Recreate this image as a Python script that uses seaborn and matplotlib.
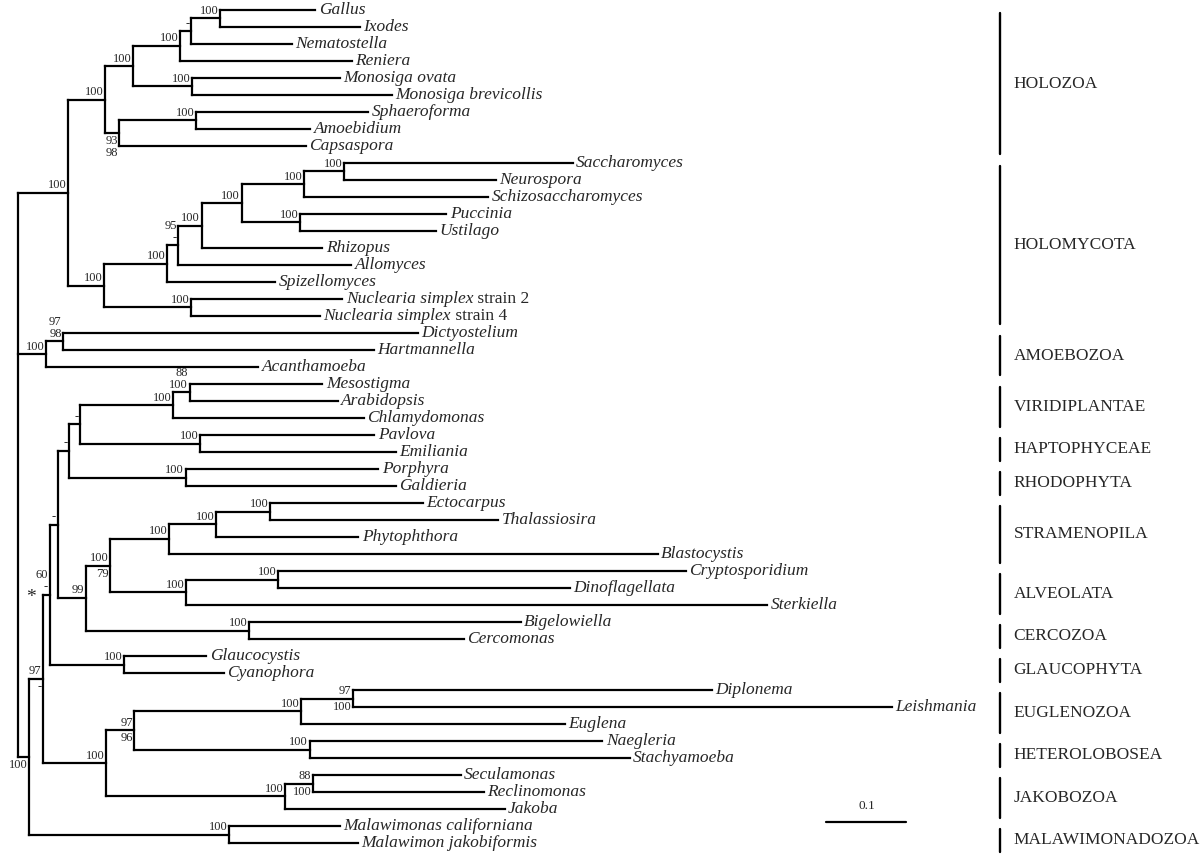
import re
import pandas as pd
import matplotlib
matplotlib.use("Agg")
import matplotlib.pyplot as plt
import seaborn as sns

# -----------------------------
# DATA
# -----------------------------
# Tree in Newick form. Branch lengths (subst./site)
# against the 0.1 scale bar. Internal labels are the support values:
#   "a/b"  -> a stacked over b, above the branch
#   "a|b"  -> a above the branch, b below it
#   leading "*" -> asterisk marker drawn left of that node
opisthokonta = (
    "((((((Gallus:0.119,Ixodes:0.175)100:0.036,Nematostella:0.126)-:0.014,"
    "Reniera:0.215)100:0.059,(Monosiga_ovata:0.185,Monosiga_brevicollis:0.25)100:0.074)100:0.035,"
    "((Sphaeroforma:0.215,Amoebidium:0.143)100:0.096,Capsaspora:0.233)|93/98:0.018)100:0.046,"
    "(((((((Saccharomyces:0.286,Neurospora:0.19)100:0.05,Schizosaccharomyces:0.23)100:0.078,"
    "(Puccinia:0.183,Ustilago:0.17)100:0.073)100:0.05,Rhizopus:0.151)100:0.029,"
    "Allomyces:0.216)95/-:0.014,Spizellomyces:0.135)100:0.079,"
    "(Nuclearia_simplex_strain_2:0.189,Nuclearia_simplex_strain_4:0.161)100:0.109)100:0.045)100:0.063"
)
amoebozoa = "((Dictyostelium:0.443,Hartmannella:0.388)97/98:0.021,Acanthamoeba:0.265)100:0.036"
plants_etc = (
    "((((Mesostigma:0.166,Arabidopsis:0.185)88/100:0.021,Chlamydomonas:0.239)100:0.116,"
    "(Pavlova:0.218,Emiliania:0.245)100:0.15)-:0.014,(Porphyra:0.241,Galdieria:0.263)100:0.146)-:0.014"
)
sar = (
    "(((((Ectocarpus:0.191,Thalassiosira:0.285)100:0.068,Phytophthora:0.178)100:0.059,"
    "Blastocystis:0.611)100:0.073,((Cryptosporidium:0.509,Dinoflagellata:0.364)100:0.115,"
    "Sterkiella:0.726)100:0.095)100|79:0.031,(Bigelowiella:0.34,Cercomonas:0.269)100:0.204)99:0.035"
)
discoba = (
    "((((Diplonema:0.449,Leishmania:0.674)97|100:0.065,Euglena:0.33)100:0.208,"
    "(Naegleria:0.366,Stachyamoeba:0.4)100:0.219)97|96:0.035,"
    "((Seculamonas:0.185,Reclinomonas:0.214)88|100:0.035,Jakoba:0.275)100:0.223)100:0.079"
)
rest = (
    "((((" + plants_etc + "," + sar + ")-:0.01,(Glaucocystis:0.103,Cyanophora:0.125)100:0.093)*60/-:0.008,"
    + discoba + ")97|-:0.018,(Malawimonas_californiana:0.139,Malawimon_jakobiformis:0.161)100:0.25)|100:0.014"
)
tree_nwk = "(" + opisthokonta + "," + amoebozoa + "," + rest + ");"

# clade bars on the right: (name, first leaf, last leaf)
group_names = ["HOLOZOA", "HOLOMYCOTA", "AMOEBOZOA", "VIRIDIPLANTAE", "HAPTOPHYCEAE",
               "RHODOPHYTA", "STRAMENOPILA", "ALVEOLATA", "CERCOZOA", "GLAUCOPHYTA",
               "EUGLENOZOA", "HETEROLOBOSEA", "JAKOBOZOA", "MALAWIMONADOZOA"]
group_first = ["Gallus", "Saccharomyces", "Dictyostelium", "Mesostigma", "Pavlova",
               "Porphyra", "Ectocarpus", "Cryptosporidium", "Bigelowiella", "Glaucocystis",
               "Diplonema", "Naegleria", "Seculamonas", "Malawimonas_californiana"]
group_last = ["Capsaspora", "Nuclearia_simplex_strain_4", "Acanthamoeba", "Chlamydomonas", "Emiliania",
              "Galdieria", "Blastocystis", "Sterkiella", "Cercomonas", "Cyanophora",
              "Euglena", "Stachyamoeba", "Jakoba", "Malawimon_jakobiformis"]

scale_len = 0.1


# -----------------------------
# PARSE + LAYOUT
# -----------------------------
def parse_newick(s):
    s = s.strip().rstrip(";")
    pos = 0

    def node():
        nonlocal pos
        n = {"children": [], "label": "", "length": 0.0}
        if s[pos] == "(":
            pos += 1
            n["children"].append(node())
            while s[pos] == ",":
                pos += 1
                n["children"].append(node())
            pos += 1
        lab = re.match(r"[^(),:;]*", s[pos:]).group(0)
        n["label"] = lab
        pos += len(lab)
        if pos < len(s) and s[pos] == ":":
            m = re.match(r":([0-9.]+)", s[pos:])
            n["length"] = float(m.group(1))
            pos += len(m.group(0))
        return n

    return node()


root = parse_newick(tree_nwk)
leaves = []


def layout(n, x0):
    n["x"] = x0 + n["length"]
    if not n["children"]:
        n["y"] = len(leaves)
        leaves.append(n)
    else:
        for c in n["children"]:
            layout(c, n["x"])
        n["y"] = (n["children"][0]["y"] + n["children"][-1]["y"]) / 2


layout(root, 0.0)

rows = []
internal = []


def collect(n, parent):
    if parent is not None:
        sid = len(rows)
        rows.append({"seg": sid, "x": parent["x"], "y": n["y"]})
        rows.append({"seg": sid, "x": n["x"], "y": n["y"]})
    if n["children"]:
        sid = len(rows)
        rows.append({"seg": sid, "x": n["x"], "y": n["children"][0]["y"]})
        rows.append({"seg": sid, "x": n["x"], "y": n["children"][-1]["y"]})
        if parent is not None:
            internal.append((n, parent))
        for c in n["children"]:
            collect(c, n)


collect(root, None)
seg_df = pd.DataFrame(rows)
leaf_y = {lf["label"]: lf["y"] for lf in leaves}

# -----------------------------
# PLOT
# -----------------------------
sns.set_theme(style="white")
plt.rcParams["font.family"] = ["Liberation Serif", "DejaVu Serif"]

fig = plt.figure(figsize=(12, 8.56), dpi=100)
ax = fig.add_axes([0, 0, 1, 1])

sns.lineplot(data=seg_df, x="x", y="y", units="seg", estimator=None, sort=False,
             color="black", lw=1.6, solid_capstyle="projecting", legend=False, ax=ax)

# leaf names (strain suffix stays upright)
for lf in leaves:
    name = lf["label"].replace("_", " ")
    head, sep, tail = name.partition(" strain ")
    t1 = ax.annotate(head, xy=(lf["x"], lf["y"]), xytext=(2.5, 0), textcoords="offset points",
                     ha="left", va="center", fontsize=12.5, fontstyle="italic")
    if sep:
        ax.annotate(" strain " + tail, xy=(1, 0.5), xycoords=t1,
                    ha="left", va="center", fontsize=12.5)

# support values
for n, parent in internal:
    lab = n["label"]
    if lab.startswith("*"):
        lab = lab[1:]
        ax.annotate("*", xy=(parent["x"], n["y"]), xytext=(-5, -2), textcoords="offset points",
                    ha="right", va="center", fontsize=14)
    above, _, below = lab.partition("|")
    if above:
        ax.annotate(above.replace("/", "\n"), xy=(n["x"], n["y"]), xytext=(-1, 1.2),
                    textcoords="offset points", ha="right", va="bottom",
                    fontsize=9, linespacing=0.95, multialignment="right")
    if below:
        ax.annotate(below.replace("/", "\n"), xy=(n["x"], n["y"]), xytext=(-1, -1.5),
                    textcoords="offset points", ha="right", va="top",
                    fontsize=9, linespacing=0.95, multialignment="right")

# clade bars
trans = ax.get_yaxis_transform()
for g, a, b in zip(group_names, group_first, group_last):
    y0 = leaf_y[a] + 0.2
    y1 = leaf_y[b] + 0.5
    ax.plot([0.8335, 0.8335], [y0, y1], color="black", lw=1.7, transform=trans)
    ax.text(0.8445, (y0 + y1) / 2, g, transform=trans, ha="left", va="center", fontsize=12.5)

# scale bar
sb_x, sb_y = 1.011, 47.75
ax.plot([sb_x, sb_x + scale_len], [sb_y, sb_y], color="black", lw=1.6)
ax.annotate(str(scale_len), xy=(sb_x + scale_len / 2, sb_y), xytext=(0, 7),
            textcoords="offset points", ha="center", va="bottom", fontsize=9.5)

ax.set_xlim(-0.0219, 1.478)
# leaf index -> pixel rows: 17 px per leaf, first leaf 10 px from top
ax.set_ylim((856 - 10) / 17, -10 / 17)
ax.axis("off")

fig.savefig("out.png", dpi=100)
